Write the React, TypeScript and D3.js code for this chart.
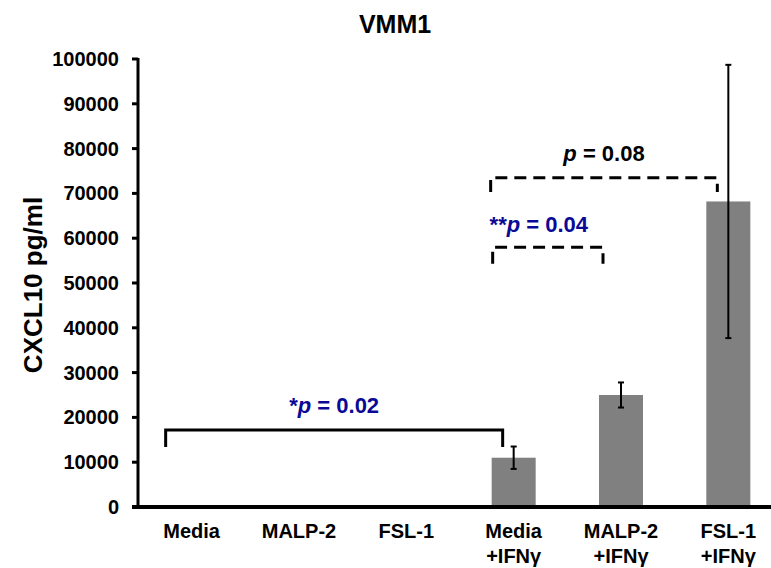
import React from 'react';
import * as d3 from 'd3';

const categories = ['Media', 'MALP-2', 'FSL-1', 'Media+IFNγ', 'MALP-2+IFNγ', 'FSL-1+IFNγ'];
const labelLines = [['Media'], ['MALP-2'], ['FSL-1'], ['Media', '+IFNγ'], ['MALP-2', '+IFNγ'], ['FSL-1', '+IFNγ']];
const means = [0, 0, 0, 11000, 25000, 68200];
const errors = [0, 0, 0, 2500, 2800, 30500];
const yTicks = [0, 10000, 20000, 30000, 40000, 50000, 60000, 70000, 80000, 90000, 100000];

// significance brackets: from / to category, offsets from band centre, levels in data units
const brackets = [
  { from: 0, to: 3, dx1: -26, dx2: -11, top: 17200, foot: 13400, dashed: false, star: '*', p: '0.02', blue: true, textY: 21000, textDx: 0 },
  { from: 3, to: 5, dx1: -23, dx2: -11, top: 73500, foot: 70300, dashed: true, star: '', p: '0.08', blue: false, textY: 77200, textDx: 0 },
  { from: 3, to: 4, dx1: -21, dx2: -18, top: 58000, foot: 54300, dashed: true, star: '**', p: '0.04', blue: true, textY: 61400, textDx: -9 },
];

const width = 771;
const height = 568;
const margin = { top: 59, right: 0, bottom: 61, left: 138 };
const font = "'Liberation Sans', Arial, sans-serif";
const blue = '#0a0a96';

const App = () => {
  const x = d3
    .scaleBand<number>()
    .domain(d3.range(categories.length))
    .range([margin.left, 782])
    .paddingInner(0.59)
    .paddingOuter(0.295);
  const y = d3
    .scaleLinear()
    .domain([0, 100000])
    .range([height - margin.bottom, margin.top]);
  const cx = (i: number) => (x(i) || 0) + x.bandwidth() / 2;

  return (
    <svg
      width={width}
      height={height}
      style={{ position: 'absolute', left: 0, top: 0, background: '#fff' }}
      fontFamily={font}
      fontWeight="bold"
    >
      <text x={395} y={33} textAnchor="middle" fontSize={25}>
        VMM1
      </text>
      <text
        transform={`translate(42,${(y(0) + y(100000)) / 2 + 2}) rotate(-90)`}
        textAnchor="middle"
        fontSize={26}
      >
        CXCL10 pg/ml
      </text>

      {/* bars */}
      <g fill="#808080">
        {means.map((m, i) =>
          m > 0 ? (
            <rect key={i} x={x(i)} y={y(m)} width={x.bandwidth()} height={y(0) - y(m)} />
          ) : null,
        )}
      </g>

      {/* error bars */}
      <g stroke="#000" strokeWidth={2}>
        {means.map((m, i) =>
          errors[i] > 0 ? (
            <g key={i}>
              <line x1={cx(i)} x2={cx(i)} y1={y(m + errors[i])} y2={y(m - errors[i])} />
              <line x1={cx(i) - 3} x2={cx(i) + 3} y1={y(m + errors[i])} y2={y(m + errors[i])} />
              <line x1={cx(i) - 3} x2={cx(i) + 3} y1={y(m - errors[i])} y2={y(m - errors[i])} />
            </g>
          ) : null,
        )}
      </g>

      {/* y axis */}
      <g>
        <line x1={margin.left} x2={margin.left} y1={y(100000) - 1} y2={y(0)} stroke="#000" strokeWidth={3} />
        {yTicks.map((t) => (
          <g key={t}>
            <line x1={margin.left - 6} x2={margin.left} y1={y(t)} y2={y(t)} stroke="#000" strokeWidth={3} />
            <text x={margin.left - 19} y={y(t)} dy="0.35em" textAnchor="end" fontSize={20}>
              {t}
            </text>
          </g>
        ))}
      </g>

      {/* x axis */}
      <line x1={margin.left - 6} x2={width} y1={y(0)} y2={y(0)} stroke="#000" strokeWidth={4} />
      {labelLines.map((lines, i) => (
        <text key={i} x={cx(i)} y={y(0) + 31} textAnchor="middle" fontSize={20}>
          {lines.map((l, j) => (
            <tspan key={j} x={cx(i)} dy={j === 0 ? 0 : 25}>
              {l}
            </tspan>
          ))}
        </text>
      ))}

      {/* significance brackets */}
      {brackets.map((b, k) => {
        const x1 = cx(b.from) + b.dx1;
        const x2 = cx(b.to) + b.dx2;
        return (
          <g key={k}>
            <path
              d={`M${x1},${y(b.foot)}V${y(b.top)}H${x2}V${y(b.foot)}`}
              fill="none"
              stroke="#000"
              strokeWidth={3}
              strokeDasharray={b.dashed ? '12,7' : undefined}
            />
            <text
              x={(x1 + x2) / 2 + b.textDx}
              y={y(b.textY)}
              textAnchor="middle"
              fontSize={22}
              fill={b.blue ? blue : '#000'}
            >
              {b.star}
              <tspan fontStyle="italic">p</tspan>
              {` = ${b.p}`}
            </text>
          </g>
        );
      })}
    </svg>
  );
};

export default App;
